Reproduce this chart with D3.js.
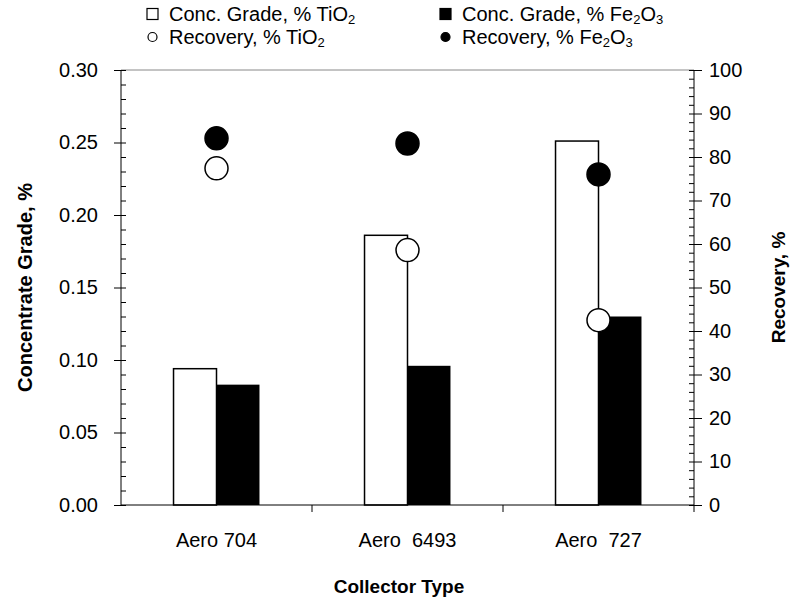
<!DOCTYPE html>
<html>
<head>
<meta charset="utf-8">
<script src="https://cdn.jsdelivr.net/npm/d3@7"></script>
<style>
  body { margin: 0; background: #fff; }
  svg { font-family: "Liberation Sans", Arial, sans-serif; }
</style>
</head>
<body>
<div id="chart"></div>
<script>
const categories = ["Aero 704", "Aero  6493", "Aero  727"];
const gradeTiO2 = [0.094, 0.186, 0.251];
const gradeFe2O3 = [0.083, 0.096, 0.130];
const recoveryTiO2 = [77.4, 58.6, 42.5];
const recoveryFe2O3 = [84.3, 83.1, 76.0];
const gradeTicks = [0, 0.05, 0.1, 0.15, 0.2, 0.25, 0.3];
const recoveryTicks = [0, 10, 20, 30, 40, 50, 60, 70, 80, 90, 100];

const width = 790, height = 600;
const margin = { left: 121, right: 96, top: 70, bottom: 95 };

const svg = d3.select("#chart").append("svg")
  .attr("width", width)
  .attr("height", height);

// scales
const x0 = d3.scaleBand()
  .domain(categories)
  .range([margin.left, width - margin.right])
  .paddingInner(0.55)
  .paddingOuter(0.275);

const x1 = d3.scaleBand()
  .domain(["TiO2", "Fe2O3"])
  .range([0, x0.bandwidth()]);

const y = d3.scaleLinear()
  .domain([0, 0.3])
  .range([height - margin.bottom, margin.top]);

const y2 = d3.scaleLinear()
  .domain([0, 100])
  .range([height - margin.bottom, margin.top]);

const rows = categories.map((c, i) => ({
  cat: c,
  tio2: gradeTiO2[i],
  fe2o3: gradeFe2O3[i],
  recTi: recoveryTiO2[i],
  recFe: recoveryFe2O3[i]
}));

// bars
const grp = svg.append("g");
rows.forEach((d) => {
  grp.append("rect")
    .attr("x", x0(d.cat) + x1("TiO2"))
    .attr("y", y(d.tio2))
    .attr("width", x1.bandwidth())
    .attr("height", y(0) - y(d.tio2))
    .attr("fill", "#fff")
    .attr("stroke", "#000")
    .attr("stroke-width", 1.5);
  grp.append("rect")
    .attr("x", x0(d.cat) + x1("Fe2O3"))
    .attr("y", y(d.fe2o3))
    .attr("width", x1.bandwidth())
    .attr("height", y(0) - y(d.fe2o3))
    .attr("fill", "#000");
});

// recovery points, centred on each group
const cx = (d) => x0(d.cat) + x0.bandwidth() / 2;
svg.append("g").selectAll("circle")
  .data(rows).enter().append("circle")
  .attr("cx", cx)
  .attr("cy", (d) => y2(d.recFe))
  .attr("r", 11.5)
  .attr("fill", "#000")
  .attr("stroke", "#000")
  .attr("stroke-width", 1.5);
svg.append("g").selectAll("circle")
  .data(rows).enter().append("circle")
  .attr("cx", cx)
  .attr("cy", (d) => y2(d.recTi))
  .attr("r", 11.5)
  .attr("fill", "#fff")
  .attr("stroke", "#000")
  .attr("stroke-width", 1.5);

// frame
const xl = margin.left, xr = width - margin.right;
svg.append("line").attr("x1", xl).attr("x2", xr)
  .attr("y1", y(0.3)).attr("y2", y(0.3))
  .attr("stroke", "#888").attr("stroke-width", 1);
svg.append("line").attr("x1", xl).attr("x2", xr)
  .attr("y1", y(0)).attr("y2", y(0))
  .attr("stroke", "#000").attr("stroke-width", 1);

// left axis: major ticks outward, minor ticks inward
const leftAxis = svg.append("g")
  .attr("transform", `translate(${xl},0)`)
  .call(d3.axisLeft(y).tickValues(gradeTicks).tickSize(7).tickPadding(16)
    .tickFormat(d3.format(".2f")));
svg.append("g")
  .attr("transform", `translate(${xl},0)`)
  .call(d3.axisRight(y).tickValues(d3.range(0, 0.3001, 0.01)).tickSize(5).tickFormat(""));

// right axis
const rightAxis = svg.append("g")
  .attr("transform", `translate(${xr},0)`)
  .call(d3.axisRight(y2).tickValues(recoveryTicks).tickSize(8).tickPadding(7));
svg.append("g")
  .attr("transform", `translate(${xr},0)`)
  .call(d3.axisLeft(y2).tickValues(d3.range(0, 100.1, 2)).tickSize(5).tickFormat(""));

svg.selectAll(".domain").remove();
svg.selectAll(".tick line").attr("stroke", "#000");
[leftAxis, rightAxis].forEach((a) =>
  a.selectAll("text").attr("font-size", 20).attr("fill", "#000")
    .attr("font-family", "'Liberation Sans', Arial, sans-serif"));

svg.append("line").attr("x1", xl).attr("x2", xl)
  .attr("y1", y(0.3)).attr("y2", y(0)).attr("stroke", "#000");
svg.append("line").attr("x1", xr).attr("x2", xr)
  .attr("y1", y(0.3)).attr("y2", y(0)).attr("stroke", "#000");

// x axis ticks sit between the categories
const step = x0.step();
const bounds = categories.slice(1).map((c) => x0(c) - (step - x0.bandwidth()) / 2);
svg.append("g").selectAll("line")
  .data(bounds.concat([xr]))
  .enter().append("line")
  .attr("x1", (d) => d).attr("x2", (d) => d)
  .attr("y1", y(0)).attr("y2", y(0) + 7)
  .attr("stroke", "#000");

svg.append("g").selectAll("text")
  .data(categories).enter().append("text")
  .attr("x", (d) => x0(d) + x0.bandwidth() / 2)
  .attr("y", y(0) + 42)
  .attr("text-anchor", "middle")
  .attr("font-size", 20)
  .style("white-space", "pre")
  .text((d) => d);

// axis titles
svg.append("text")
  .attr("x", 399).attr("y", 593)
  .attr("text-anchor", "middle")
  .attr("font-size", 19).attr("font-weight", "bold")
  .text("Collector Type");
svg.append("text")
  .attr("transform", `translate(32,${(y(0) + y(0.3)) / 2}) rotate(-90)`)
  .attr("text-anchor", "middle")
  .attr("font-size", 20).attr("font-weight", "bold")
  .text("Concentrate Grade, %");
svg.append("text")
  .attr("transform", `translate(785,${(y(0) + y(0.3)) / 2}) rotate(-90)`)
  .attr("text-anchor", "middle")
  .attr("font-size", 19).attr("font-weight", "bold")
  .text("Recovery, %");

// legend
const legendItems = [
  { sym: "rect", fill: "#fff", label: "Conc. Grade, % ", chem: [["TiO", false], ["2", true]], x: 147, y: 14 },
  { sym: "rect", fill: "#000", label: "Conc. Grade, % ", chem: [["Fe", false], ["2", true], ["O", false], ["3", true]], x: 440, y: 14 },
  { sym: "circle", fill: "#fff", label: "Recovery, % ", chem: [["TiO", false], ["2", true]], x: 147, y: 37 },
  { sym: "circle", fill: "#000", label: "Recovery, % ", chem: [["Fe", false], ["2", true], ["O", false], ["3", true]], x: 440, y: 37 }
];
const legend = svg.append("g");
legendItems.forEach((it) => {
  if (it.sym === "rect") {
    legend.append("rect")
      .attr("x", it.x).attr("y", it.y - 5.5)
      .attr("width", 11).attr("height", 11)
      .attr("fill", it.fill).attr("stroke", "#000").attr("stroke-width", 1.2);
  } else {
    legend.append("circle")
      .attr("cx", it.x + 5.5).attr("cy", it.y)
      .attr("r", 4.5)
      .attr("fill", it.fill).attr("stroke", "#000").attr("stroke-width", 1.2);
  }
  const t = legend.append("text")
    .attr("x", it.x + 22).attr("y", it.y + 7)
    .attr("font-size", 20).attr("fill", "#000")
    .style("white-space", "pre");
  t.append("tspan").text(it.label);
  let low = false;
  it.chem.forEach(([s, sub]) => {
    const ts = t.append("tspan").text(s);
    if (sub && !low) { ts.attr("dy", 3).attr("font-size", 13); low = true; }
    else if (sub) { ts.attr("font-size", 13); }
    else if (low) { ts.attr("dy", -3); low = false; }
  });
});
</script>
</body>
</html>
